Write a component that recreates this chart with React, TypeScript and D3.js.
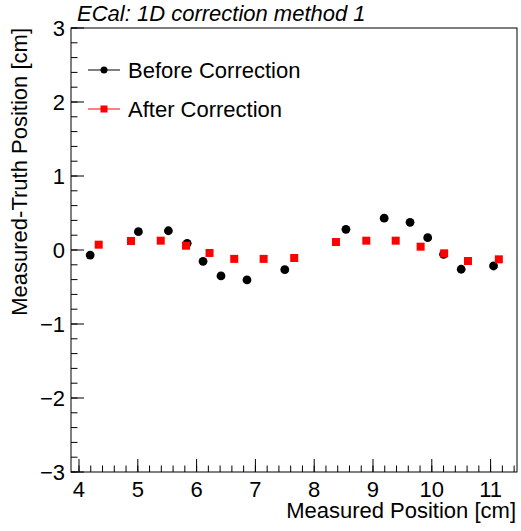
import React from "react";
import * as d3 from "d3";

const beforeX = [4.19, 5.01, 5.52, 5.84, 6.11, 6.415, 6.857, 7.5, 8.54, 9.19, 9.63, 9.93, 10.2, 10.5, 11.05];
const beforeY = [-0.068, 0.247, 0.26, 0.09, -0.153, -0.35, -0.405, -0.266, 0.28, 0.43, 0.374, 0.166, -0.058, -0.26, -0.216];
const afterX = [4.335, 4.884, 5.39, 5.82, 6.22, 6.64, 7.14, 7.66, 8.37, 8.886, 9.386, 9.81, 10.21, 10.615, 11.14];
const afterY = [0.072, 0.122, 0.126, 0.058, -0.04, -0.12, -0.12, -0.108, 0.108, 0.126, 0.126, 0.045, -0.045, -0.149, -0.126];
const xTicks = [4, 5, 6, 7, 8, 9, 10, 11];
const yTicks = [-3, -2, -1, 0, 1, 2, 3];
const title = "ECal: 1D correction method 1";
const xTitle = "Measured Position [cm]";
const yTitle = "Measured-Truth Position [cm]";
const legendLabels = ["Before Correction", "After Correction"];

const W = 521, H = 531;
const L = 71, R = 517, T = 28, B = 472;
const FONT = "'Liberation Sans', Arial, sans-serif";

export default function App() {
  const x = d3.scaleLinear().domain([3.864, 11.449]).range([L, R]);
  const y = d3.scaleLinear().domain([-3, 3]).range([B, T]);
  const xMinor = d3.range(38, 115).map((v) => v / 10).filter((v) => Math.abs(v * 5 - Math.round(v * 5)) < 1e-6 && v >= 3.864 && v <= 11.449);
  const yMinor = d3.range(-30, 31, 2).map((v) => v / 10);
  const fmt = (v: number) => (v < 0 ? "\u2212" + Math.abs(v) : String(v));
  const majT = 13, minT = 6.5;
  return (
    <svg width={W} height={H} style={{ position: "fixed", left: 0, top: 0, background: "#fff" }} fontFamily={FONT}>
      <rect x={0} y={0} width={W} height={H} fill="#fff" />
      {/* minor ticks */}
      {xMinor.map((v, i) => (
        <g key={"xm" + i}>
          <line x1={x(v)} x2={x(v)} y1={B} y2={B - minT} stroke="#000" />
        </g>
      ))}
      {yMinor.map((v, i) => (
        <line key={"ym" + i} x1={L} x2={L + minT} y1={y(v)} y2={y(v)} stroke="#000" />
      ))}
      {xTicks.map((v) => (
        <g key={"xt" + v}>
          <line x1={x(v)} x2={x(v)} y1={B} y2={B - majT} stroke="#000" />
          <text x={x(v)} y={497} textAnchor="middle" fontSize={22}>{fmt(v)}</text>
        </g>
      ))}
      {yTicks.map((v) => (
        <g key={"yt" + v}>
          <line x1={L} x2={L + majT} y1={y(v)} y2={y(v)} stroke="#000" />
          <text x={65} y={y(v)} textAnchor="end" dominantBaseline="central" fontSize={22}>{fmt(v)}</text>
        </g>
      ))}
      <rect x={L} y={T} width={R - L} height={B - T} fill="none" stroke="#000" strokeWidth={1} />
      <text x={77} y={21} fontSize={22} fontStyle="italic">{title}</text>
      <text x={516} y={518} fontSize={22} textAnchor="end">{xTitle}</text>
      <text transform={`translate(27,${T}) rotate(-90)`} fontSize={22} textAnchor="end">{yTitle}</text>
      {beforeX.map((v, i) => (
        <circle key={"b" + i} cx={x(v)} cy={y(beforeY[i])} r={4.4} fill="#000" />
      ))}
      {afterX.map((v, i) => (
        <rect key={"a" + i} x={x(v) - 4} y={y(afterY[i]) - 4} width={8} height={8} fill="#ff0000" />
      ))}
      {/* legend */}
      <line x1={88} x2={120} y1={70} y2={70} stroke="#000" />
      <circle cx={104} cy={70} r={3.5} fill="#000" />
      <text x={128} y={77.5} fontSize={22}>{legendLabels[0]}</text>
      <line x1={88} x2={120} y1={109} y2={109} stroke="#ff0000" />
      <rect x={100.5} y={105.5} width={7} height={7} fill="#ff0000" />
      <text x={128} y={116.5} fontSize={22}>{legendLabels[1]}</text>
    </svg>
  );
}
